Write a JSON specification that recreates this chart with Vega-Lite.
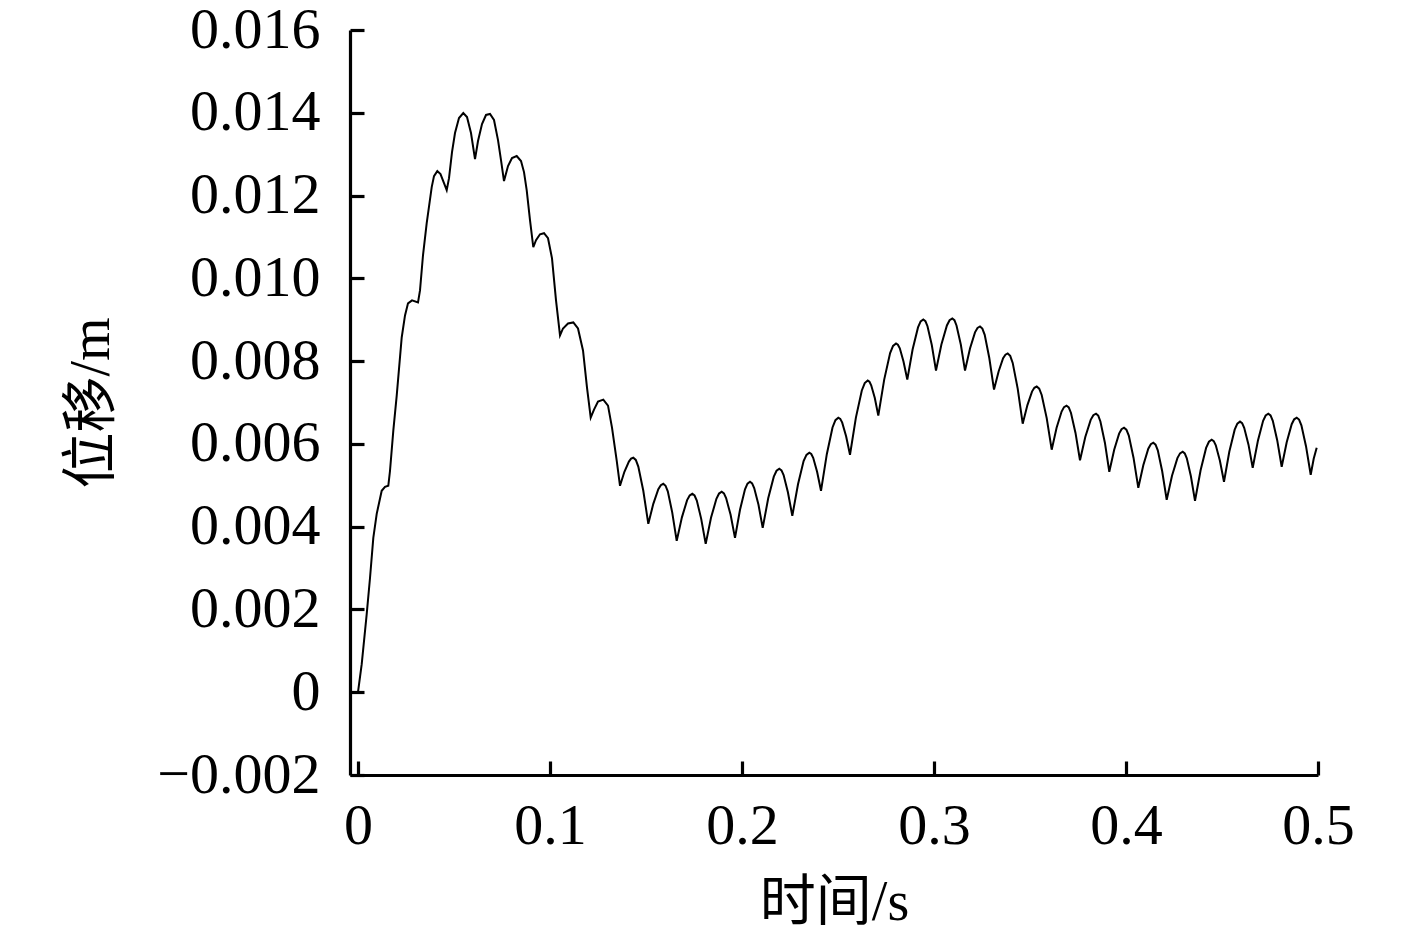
{
  "$schema": "https://vega.github.io/schema/vega-lite/v6.json",
  "width": 968,
  "height": 745,
  "autosize": {"type": "none"},
  "padding": {"left": 350, "top": 30, "right": 99, "bottom": 158},
  "background": "white",
  "config": {
    "view": {"stroke": null},
    "axis": {
      "grid": false,
      "domainColor": "black",
      "domainWidth": 3.2,
      "tickColor": "black",
      "tickWidth": 3.2,
      "tickSize": -14,
      "labelFont": "Liberation Serif",
      "labelFontSize": 58,
      "labelColor": "black",
      "labelFlush": false,
      "titleFont": "Liberation Serif, Noto Sans CJK SC",
      "titleFontSize": 56,
      "titleFontWeight": "normal",
      "titleColor": "black"
    }
  },
  "data": {
    "values": [
      {"t":0,"v":0},{"t":0.00193,"v":0.000678},{"t":0.00453,"v":0.001889},{"t":0.00625,"v":0.00276},{"t":0.00797,"v":0.003729},{"t":0.00974,"v":0.00431},{"t":0.01234,"v":0.004867},{"t":0.01406,"v":0.004964},{"t":0.01578,"v":0.004988},{"t":0.01667,"v":0.005351},{"t":0.01839,"v":0.00632},{"t":0.02016,"v":0.007167},{"t":0.02276,"v":0.008571},{"t":0.02448,"v":0.009104},{"t":0.02604,"v":0.009395},{"t":0.02813,"v":0.009467},{"t":0.03125,"v":0.009419},{"t":0.03229,"v":0.009709},{"t":0.03385,"v":0.010557},{"t":0.03578,"v":0.011332},{"t":0.03839,"v":0.012203},{"t":0.03958,"v":0.01247},{"t":0.0413,"v":0.012591},{"t":0.04297,"v":0.012518},{"t":0.04479,"v":0.0123},{"t":0.0462,"v":0.012131},{"t":0.0474,"v":0.012421},{"t":0.04896,"v":0.013051},{"t":0.05052,"v":0.013511},{"t":0.0526,"v":0.013874},{"t":0.05484,"v":0.013995},{"t":0.05677,"v":0.013898},{"t":0.05885,"v":0.013511},{"t":0.06094,"v":0.012881},{"t":0.0625,"v":0.013317},{"t":0.06458,"v":0.013729},{"t":0.06667,"v":0.013947},{"t":0.06875,"v":0.013971},{"t":0.07083,"v":0.013826},{"t":0.07292,"v":0.013341},{"t":0.07448,"v":0.012857},{"t":0.07604,"v":0.012349},{"t":0.07813,"v":0.012712},{"t":0.08021,"v":0.012906},{"t":0.08266,"v":0.012954},{"t":0.0849,"v":0.012833},{"t":0.08646,"v":0.012567},{"t":0.08786,"v":0.012131},{"t":0.08958,"v":0.011404},{"t":0.0913,"v":0.010751},{"t":0.09271,"v":0.01092},{"t":0.09479,"v":0.011065},{"t":0.09688,"v":0.01109},{"t":0.09896,"v":0.010969},{"t":0.10104,"v":0.010484},{"t":0.10313,"v":0.009467},{"t":0.10521,"v":0.00862},{"t":0.10677,"v":0.008789},{"t":0.10938,"v":0.00891},{"t":0.11214,"v":0.008935},{"t":0.11458,"v":0.008789},{"t":0.11719,"v":0.008257},{"t":0.11927,"v":0.007361},{"t":0.1212,"v":0.006634},{"t":0.12292,"v":0.006828},{"t":0.125,"v":0.007022},{"t":0.12776,"v":0.00707},{"t":0.13021,"v":0.006925},{"t":0.13229,"v":0.006392},{"t":0.13474,"v":0.005593},{"t":0.13646,"v":0.004988},
      {"t":0.13875,"v":0.005327},{"t":0.14109,"v":0.005574},{"t":0.14223,"v":0.005643},{"t":0.14339,"v":0.005666},{"t":0.14469,"v":0.005612},{"t":0.14599,"v":0.005453},{"t":0.14859,"v":0.004867},{"t":0.1512,"v":0.004068},
      {"t":0.1538,"v":0.004552},{"t":0.15641,"v":0.004906},{"t":0.15771,"v":0.005003},{"t":0.15901,"v":0.005036},{"t":0.16018,"v":0.004989},{"t":0.16135,"v":0.004852},{"t":0.16365,"v":0.004346},{"t":0.16599,"v":0.003656},
      {"t":0.1687,"v":0.004225},{"t":0.17141,"v":0.004642},{"t":0.17275,"v":0.004755},{"t":0.17411,"v":0.004794},{"t":0.17528,"v":0.004753},{"t":0.17646,"v":0.004632},{"t":0.17875,"v":0.004189},{"t":0.18109,"v":0.003584},
      {"t":0.18385,"v":0.004213},{"t":0.18667,"v":0.004673},{"t":0.18804,"v":0.0048},{"t":0.18943,"v":0.004843},{"t":0.19059,"v":0.004805},{"t":0.19172,"v":0.004692},{"t":0.19406,"v":0.004286},{"t":0.19635,"v":0.003729},
      {"t":0.19896,"v":0.004407},{"t":0.20156,"v":0.004903},{"t":0.20286,"v":0.005039},{"t":0.20417,"v":0.005085},{"t":0.20527,"v":0.005047},{"t":0.20635,"v":0.004935},{"t":0.20859,"v":0.004528},{"t":0.21078,"v":0.003971},
      {"t":0.21365,"v":0.004685},{"t":0.21656,"v":0.005208},{"t":0.21799,"v":0.005351},{"t":0.21943,"v":0.0054},{"t":0.22056,"v":0.005361},{"t":0.22167,"v":0.005247},{"t":0.22391,"v":0.004831},{"t":0.2262,"v":0.004262},
      {"t":0.22917,"v":0.005024},{"t":0.23208,"v":0.005584},{"t":0.23357,"v":0.005735},{"t":0.23505,"v":0.005787},{"t":0.23607,"v":0.005756},{"t":0.23708,"v":0.005663},{"t":0.23911,"v":0.005327},{"t":0.24115,"v":0.004867},
      {"t":0.24417,"v":0.005751},{"t":0.24714,"v":0.006397},{"t":0.24866,"v":0.006574},{"t":0.25016,"v":0.006634},{"t":0.25118,"v":0.006604},{"t":0.25219,"v":0.006513},{"t":0.25422,"v":0.006186},{"t":0.25625,"v":0.005738},
      {"t":0.25932,"v":0.006634},{"t":0.2624,"v":0.007291},{"t":0.26393,"v":0.007469},{"t":0.26547,"v":0.00753},{"t":0.26639,"v":0.007501},{"t":0.26729,"v":0.007416},{"t":0.26917,"v":0.007107},{"t":0.27099,"v":0.006683},
      {"t":0.27406,"v":0.007554},{"t":0.27714,"v":0.008194},{"t":0.27867,"v":0.008367},{"t":0.28021,"v":0.008426},{"t":0.28119,"v":0.008396},{"t":0.28219,"v":0.00831},{"t":0.28411,"v":0.00799},{"t":0.28609,"v":0.007554},
      {"t":0.28885,"v":0.008281},{"t":0.29167,"v":0.008814},{"t":0.29304,"v":0.008958},{"t":0.29443,"v":0.009007},{"t":0.29553,"v":0.008965},{"t":0.29661,"v":0.008843},{"t":0.29885,"v":0.00839},{"t":0.30104,"v":0.007772},
      {"t":0.30385,"v":0.008402},{"t":0.30672,"v":0.008862},{"t":0.30811,"v":0.008988},{"t":0.30953,"v":0.009031},{"t":0.31064,"v":0.008988},{"t":0.31172,"v":0.008862},{"t":0.31396,"v":0.008402},{"t":0.31615,"v":0.007772},
      {"t":0.31875,"v":0.008305},{"t":0.32135,"v":0.008695},{"t":0.32266,"v":0.008802},{"t":0.32396,"v":0.008838},{"t":0.32518,"v":0.008786},{"t":0.32641,"v":0.008634},{"t":0.3288,"v":0.008075},{"t":0.33125,"v":0.007312},
      {"t":0.33365,"v":0.007748},{"t":0.33599,"v":0.008068},{"t":0.3372,"v":0.008154},{"t":0.33839,"v":0.008184},{"t":0.33969,"v":0.008126},{"t":0.34099,"v":0.007956},{"t":0.34359,"v":0.007337},{"t":0.3462,"v":0.006489},
      {"t":0.34865,"v":0.006937},{"t":0.35104,"v":0.007264},{"t":0.35227,"v":0.007355},{"t":0.35349,"v":0.007385},{"t":0.35479,"v":0.007333},{"t":0.35609,"v":0.007182},{"t":0.3587,"v":0.006622},{"t":0.3613,"v":0.00586},
      {"t":0.36385,"v":0.006392},{"t":0.36646,"v":0.006782},{"t":0.36772,"v":0.006889},{"t":0.36901,"v":0.006925},{"t":0.37018,"v":0.00688},{"t":0.37135,"v":0.006748},{"t":0.3737,"v":0.006264},{"t":0.37604,"v":0.005605},
      {"t":0.3788,"v":0.006167},{"t":0.38161,"v":0.006581},{"t":0.38299,"v":0.006693},{"t":0.38438,"v":0.006731},{"t":0.38554,"v":0.006683},{"t":0.38667,"v":0.006542},{"t":0.38901,"v":0.006029},{"t":0.3913,"v":0.005327},
      {"t":0.39385,"v":0.00586},{"t":0.39641,"v":0.006249},{"t":0.39768,"v":0.006356},{"t":0.39896,"v":0.006392},{"t":0.4002,"v":0.006343},{"t":0.40146,"v":0.006199},{"t":0.40391,"v":0.005666},{"t":0.40641,"v":0.004939},
      {"t":0.40901,"v":0.005484},{"t":0.41161,"v":0.005884},{"t":0.41292,"v":0.005992},{"t":0.41422,"v":0.006029},{"t":0.41539,"v":0.005982},{"t":0.41656,"v":0.005845},{"t":0.41885,"v":0.005339},{"t":0.4212,"v":0.004649},
      {"t":0.42396,"v":0.00523},{"t":0.42677,"v":0.005656},{"t":0.42814,"v":0.005771},{"t":0.42953,"v":0.005811},{"t":0.4306,"v":0.005771},{"t":0.43167,"v":0.005651},{"t":0.4338,"v":0.005218},{"t":0.43594,"v":0.004625},
      {"t":0.43885,"v":0.005363},{"t":0.44172,"v":0.005903},{"t":0.44319,"v":0.006052},{"t":0.44464,"v":0.006102},{"t":0.44571,"v":0.006067},{"t":0.44677,"v":0.005966},{"t":0.44891,"v":0.005593},{"t":0.45104,"v":0.005085},
      {"t":0.4538,"v":0.005811},{"t":0.45661,"v":0.006344},{"t":0.45799,"v":0.006489},{"t":0.45938,"v":0.006538},{"t":0.46048,"v":0.0065},{"t":0.46156,"v":0.006387},{"t":0.4638,"v":0.005981},{"t":0.46599,"v":0.005424},
      {"t":0.4687,"v":0.006077},{"t":0.47141,"v":0.006557},{"t":0.47275,"v":0.006687},{"t":0.47411,"v":0.006731},{"t":0.47528,"v":0.006687},{"t":0.47646,"v":0.006559},{"t":0.47875,"v":0.00609},{"t":0.48109,"v":0.005448},
      {"t":0.4837,"v":0.006041},{"t":0.4863,"v":0.006475},{"t":0.4876,"v":0.006594},{"t":0.48891,"v":0.006634},{"t":0.49013,"v":0.006587},{"t":0.49135,"v":0.00645},{"t":0.49375,"v":0.005944},{"t":0.4962,"v":0.005254},
      {"t":0.49776,"v":0.005642},{"t":0.49932,"v":0.005908}
    ]
  },
  "mark": {"type": "line", "color": "black", "strokeWidth": 2, "interpolate": "linear"},
  "encoding": {
    "x": {
      "field": "t",
      "type": "quantitative",
      "scale": {"domain": [-0.00417, 0.5], "nice": false, "zero": false},
      "axis": {
        "title": "时间/s",
        "values": [0, 0.1, 0.2, 0.3, 0.4, 0.5],
        "format": "~g",
        "labelPadding": 36,
        "titlePadding": 20
      }
    },
    "y": {
      "field": "v",
      "type": "quantitative",
      "scale": {"domain": [-0.002, 0.016], "nice": false, "zero": false},
      "axis": {
        "title": "位移/m",
        "values": [-0.002, 0, 0.002, 0.004, 0.006, 0.008, 0.01, 0.012, 0.014, 0.016],
        "labelExpr": "datum.value == 0 ? '0' : format(datum.value, '.3f')",
        "labelPadding": 44,
        "titlePadding": 36
      }
    }
  }
}
